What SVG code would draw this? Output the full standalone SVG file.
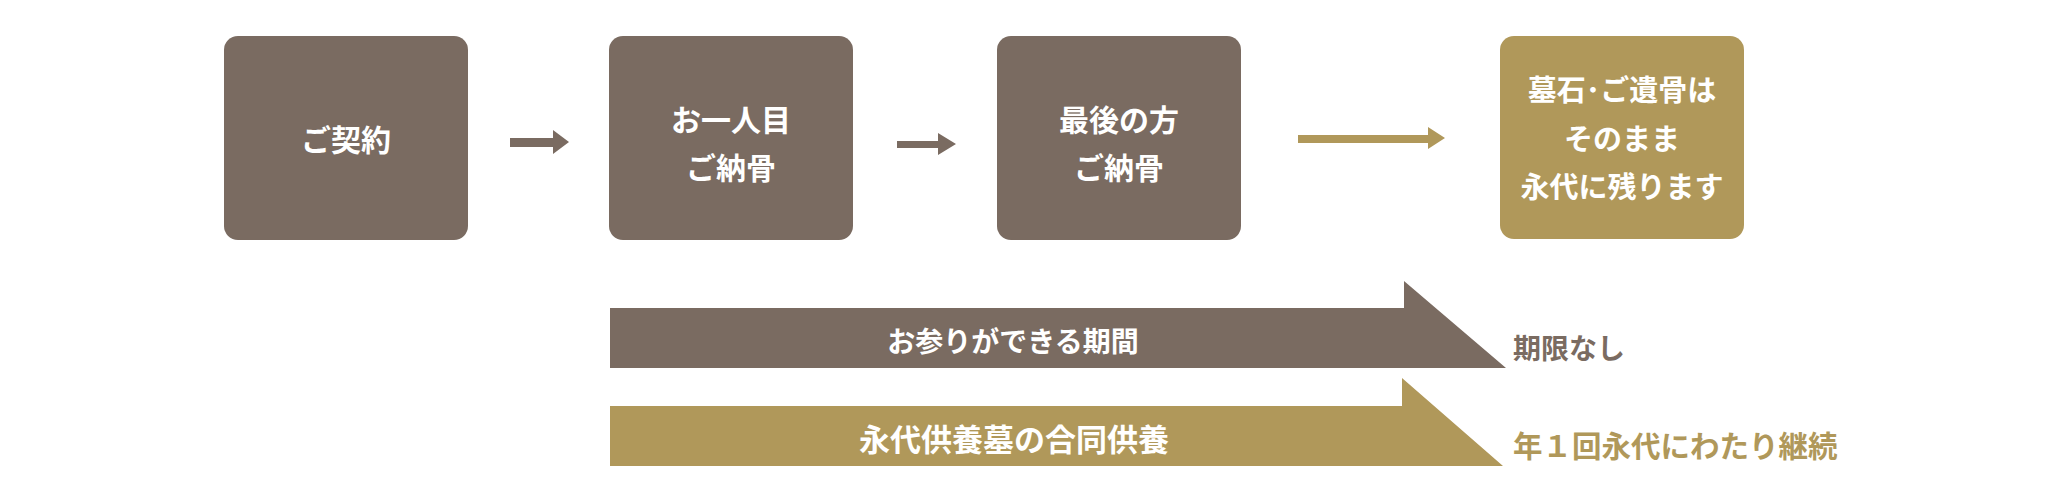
<svg xmlns="http://www.w3.org/2000/svg" width="2060" height="502" viewBox="0 0 2060 502">
<style>
.brown{fill:#7a6b61}
.gold{fill:#b0985a}
.t{font-family:"Noto Sans CJK JP","Noto Sans",sans-serif;font-weight:bold;text-anchor:middle;fill:#ffffff}
.b{font-size:30px}
.g{font-size:29px}
.s{font-family:"Noto Sans CJK JP","Noto Sans",sans-serif;font-weight:bold}
</style>
<rect width="2060" height="502" fill="#ffffff"/>
<g id="node-contract">
<rect class="brown" x="224" y="36" width="244" height="204" rx="14"/>
<text class="t b" x="346" y="151">ご契約</text>
</g>
<g id="node-first">
<rect class="brown" x="609" y="36" width="244" height="204" rx="14"/>
<text class="t b" x="731" y="131">お一人目</text>
<text class="t b" x="731" y="179">ご納骨</text>
</g>
<g id="node-last">
<rect class="brown" x="997" y="36" width="244" height="204" rx="14"/>
<text class="t b" x="1119" y="131">最後の方</text>
<text class="t b" x="1119" y="179">ご納骨</text>
</g>
<g id="node-remain">
<rect class="gold" x="1500" y="36" width="244" height="203" rx="14"/>
<text class="t g" x="1622" y="101">墓石･ご遺骨は</text>
<text class="t g" x="1622" y="150">そのまま</text>
<text class="t g" x="1622" y="198">永代に残ります</text>
</g>
<g id="connectors">
<polygon class="brown" points="510,138 553,138 553,130 569,142 553,154 553,147 510,147"/>
<polygon class="brown" points="897,141 938,141 938,133 956,144 938,155 938,148 897,148"/>
<polygon class="gold" points="1298,135 1428,135 1428,127 1445,138 1428,149 1428,143 1298,143"/>
</g>
<g id="band-visit">
<polygon class="brown" points="610,308 1404,308 1404,281 1506,368 610,368"/>
<text class="t" x="1013" y="352" style="font-size:28px">お参りができる期間</text>
</g>
<g id="band-memorial">
<polygon class="gold" points="610,406 1402,406 1402,378 1503,466 610,466"/>
<text class="t" x="1014" y="451" style="font-size:31px">永代供養墓の合同供養</text>
</g>
<g id="label-novisit">
<text class="s" x="1513" y="359" style="font-size:28px" fill="#7a6b61">期限なし</text>
</g>
<g id="label-yearly">
<text class="s" x="1513" y="457" style="font-size:29.5px" fill="#b0985a">年１回永代にわたり継続</text>
</g>
</svg>
